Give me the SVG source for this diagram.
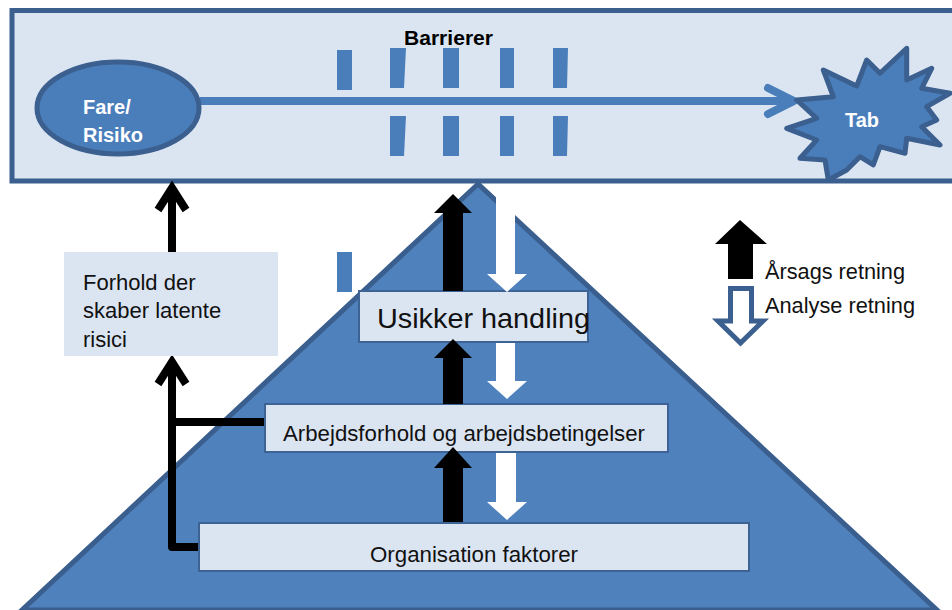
<svg xmlns="http://www.w3.org/2000/svg" width="952" height="610" viewBox="0 0 952 610">
<style>
.lt{fill:#dbe5f1}
.bx{fill:#dbe5f1;stroke:#3d6394;stroke-width:2}
.t{font-family:"Liberation Sans",Arial,sans-serif;font-size:22px;fill:#111}
.tb{font-family:"Liberation Sans",Arial,sans-serif;font-weight:bold;font-size:20px;fill:#fff}
.bar{fill:#4a7ebb}
.blk{fill:#000}
.wht{fill:#fff}
.ln{fill:none;stroke:#000;stroke-width:8}
</style>
<g id="pyramid">
<polygon points="478,184 22,610 937,610" fill="#4f81bd" stroke="#3a5f8f" stroke-width="5" stroke-linejoin="miter"/>
</g>
<g id="top-band">
<rect x="12" y="10.5" width="960" height="170.5" fill="#dbe5f1" stroke="#3b5f8e" stroke-width="5"/>
<text x="404" y="45" class="tb" style="fill:#000" textLength="89" lengthAdjust="spacingAndGlyphs">Barrierer</text>
</g>
<g id="barriers">
<rect class="bar" x="337" y="50" width="15" height="40"/>
<polygon class="bar" points="390,48 406,48 404,88 390,88"/>
<rect class="bar" x="443" y="48" width="16" height="40"/>
<rect class="bar" x="500" y="48" width="14" height="40"/>
<polygon class="bar" points="553,48 568,48 567,88 553,88"/>
<polygon class="bar" points="390,116 406,116 404,156 390,156"/>
<rect class="bar" x="443" y="116" width="16" height="40"/>
<rect class="bar" x="500" y="116" width="14" height="40"/>
<polygon class="bar" points="553,116 568,116 567,156 553,156"/>
<rect class="bar" x="337" y="252" width="15" height="40"/>
</g>
<g id="connectors">
<line x1="200" y1="101" x2="792" y2="101" stroke="#4a7ebb" stroke-width="8"/>
<polyline points="768,88 794,101 768,114" fill="none" stroke="#4a7ebb" stroke-width="8" stroke-linecap="round" stroke-linejoin="round"/>
<line class="ln" x1="172" y1="254" x2="172" y2="190"/>
<polyline class="ln" points="158,210 172,188 186,210" stroke-width="7"/>
<polyline class="ln" points="199,547 172,547 172,364" stroke-linejoin="round"/>
<polyline class="ln" points="158,384 172,362 186,384" stroke-width="7"/>
<line class="ln" x1="172" y1="422" x2="265" y2="422"/>
</g>
<g id="fare">
<ellipse cx="118" cy="108" rx="81" ry="46" fill="#4a7ebb" stroke="#3b5f8e" stroke-width="5"/>
<text x="83" y="114" class="tb">Fare/</text>
<text x="83" y="142" class="tb">Risiko</text>
</g>
<g id="tab">
<polygon points="796.7,100 833.3,96.7 823.3,70 856.7,86 866.7,60 880,73.3 906.7,48.3 906.7,80 931.7,68.3 921.7,88.3 950,93.3 926.7,106.7 936.7,120 921.7,126.7 940,145 906.7,138.3 905,153.3 880,146.7 873.3,165 860,156.7 846.7,170 828.3,180 825,160 800,158.3 816.7,140 786.7,128.3 816.7,118.3" fill="#4a7ebb" stroke="#3b5f8e" stroke-width="5" stroke-linejoin="round"/>
<text x="845" y="127" class="tb" textLength="34" lengthAdjust="spacingAndGlyphs">Tab</text>
</g>
<g id="forhold">
<rect class="lt" x="64" y="252" width="214" height="104"/>
<text x="83" y="290" class="t">Forhold der</text>
<text x="83" y="318" class="t">skaber latente</text>
<text x="83" y="347" class="t">risici</text>
</g>
<g id="usikker">
<rect class="bx" x="359" y="291" width="229" height="51"/>
<text x="377" y="328" class="t" style="font-size:28.5px" textLength="213" lengthAdjust="spacingAndGlyphs">Usikker handling</text>
</g>
<g id="arbejds">
<rect class="bx" x="265" y="404" width="403" height="48"/>
<text x="283" y="441" class="t" textLength="362" lengthAdjust="spacingAndGlyphs">Arbejdsforhold og arbejdsbetingelser</text>
</g>
<g id="organisation">
<rect class="bx" x="199" y="523" width="550" height="48"/>
<text x="370" y="562" class="t" textLength="208" lengthAdjust="spacingAndGlyphs">Organisation faktorer</text>
</g>
<g id="flow-arrows">
<polygon class="blk" points="453,194 472,213 463,213 463,291 443,291 443,213 434,213"/>
<polygon class="blk" points="453,339 472,358 463,358 463,404 443,404 443,358 434,358"/>
<polygon class="blk" points="453,447 472,468 463,468 463,522 443,522 443,468 434,468"/>
<polygon class="wht" points="496,184 515,184 515,274 527,274 507,292 487,274 496,274"/>
<polygon class="wht" points="496,343 515,343 515,381 527,381 507,399 487,381 496,381"/>
<polygon class="wht" points="496,453 516,453 516,502 527,502 507,520 487,502 496,502"/>
</g>
<g id="legend">
<polygon class="blk" points="740,220 767,244 753,244 753,279 728,279 728,244 715,244"/>
<polygon points="730.5,288.5 751.5,288.5 751.5,321 763,321 740.5,343 718,321 730.5,321" fill="#fff" stroke="#3b5f8e" stroke-width="5"/>
<text x="765" y="279" class="t" textLength="140" lengthAdjust="spacingAndGlyphs">Årsags retning</text>
<text x="765" y="313" class="t" textLength="150" lengthAdjust="spacingAndGlyphs">Analyse retning</text>
</g>
</svg>
